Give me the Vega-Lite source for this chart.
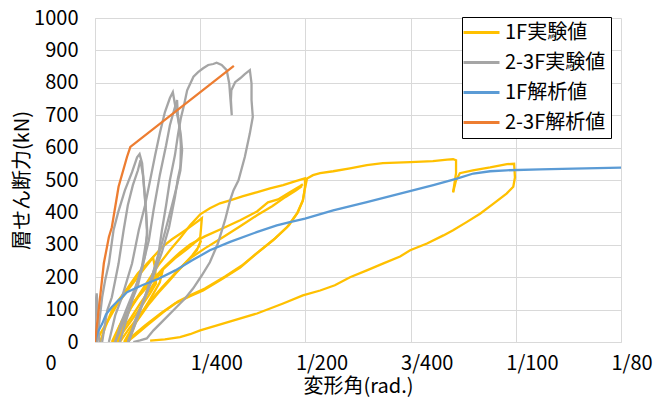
{
"$schema":"https://vega.github.io/schema/vega-lite/v6.json",
"width":526,"height":324,
"autosize":{"type":"none"},
"padding":{"left":95,"top":18,"right":35,"bottom":56},
"background":"white",
"config":{"font":"Noto Sans CJK JP","view":{"stroke":null},
 "axis":{"labelFont":"Noto Sans CJK JP","labelFontSize":20,"labelColor":"#000","titleFont":"Noto Sans CJK JP","titleFontSize":20,"titleFontWeight":"normal","titleColor":"#000","gridColor":"#d9d9d9","gridWidth":1,"domainColor":"#d9d9d9","ticks":false,"tickSize":0,"labelOverlap":false,"labelBound":false,"labelFlush":false}},
"data":{"values":[
{"s":"1F実験値","g":"ya","x":0.00002,"y":0},{"s":"1F実験値","g":"ya","x":0.00014,"y":29},{"s":"1F実験値","g":"ya","x":0.00031,"y":66},{"s":"1F実験値","g":"ya","x":0.0005,"y":110},{"s":"1F実験値","g":"ya","x":0.00074,"y":153},{"s":"1F実験値","g":"ya","x":0.00097,"y":193},{"s":"1F実験値","g":"ya","x":0.00119,"y":230},{"s":"1F実験値","g":"ya","x":0.00138,"y":261},{"s":"1F実験値","g":"ya","x":0.00143,"y":227},{"s":"1F実験値","g":"ya","x":0.00145,"y":181},{"s":"1F実験値","g":"ya","x":0.00131,"y":150},{"s":"1F実験値","g":"ya","x":0.00107,"y":104},{"s":"1F実験値","g":"ya","x":0.00083,"y":60},{"s":"1F実験値","g":"ya","x":0.00064,"y":26},{"s":"1F実験値","g":"ya","x":0.0005,"y":0},
{"s":"1F実験値","g":"yb","x":0.00045,"y":0},{"s":"1F実験値","g":"yb","x":0.00064,"y":36},{"s":"1F実験値","g":"yb","x":0.00086,"y":76},{"s":"1F実験値","g":"yb","x":0.00109,"y":122},{"s":"1F実験値","g":"yb","x":0.00131,"y":162},{"s":"1F実験値","g":"yb","x":0.0015,"y":202},{"s":"1F実験値","g":"yb","x":0.00162,"y":227},{"s":"1F実験値","g":"yb","x":0.00154,"y":184},{"s":"1F実験値","g":"yb","x":0.00135,"y":141},{"s":"1F実験値","g":"yb","x":0.00112,"y":91},{"s":"1F実験値","g":"yb","x":0.0009,"y":48},{"s":"1F実験値","g":"yb","x":0.00074,"y":0},
{"s":"1F実験値","g":"yc","x":0.00012,"y":0},{"s":"1F実験値","g":"yc","x":0.00026,"y":51},{"s":"1F実験値","g":"yc","x":0.0004,"y":97},{"s":"1F実験値","g":"yc","x":0.00055,"y":128},{"s":"1F実験値","g":"yc","x":0.00078,"y":168},{"s":"1F実験値","g":"yc","x":0.00102,"y":212},{"s":"1F実験値","g":"yc","x":0.00131,"y":252},{"s":"1F実験値","g":"yc","x":0.00159,"y":292},{"s":"1F実験値","g":"yc","x":0.00183,"y":317},{"s":"1F実験値","g":"yc","x":0.00207,"y":338},{"s":"1F実験値","g":"yc","x":0.00231,"y":360},{"s":"1F実験値","g":"yc","x":0.00254,"y":382},{"s":"1F実験値","g":"yc","x":0.00252,"y":351},{"s":"1F実験値","g":"yc","x":0.0025,"y":323},{"s":"1F実験値","g":"yc","x":0.00235,"y":304},{"s":"1F実験値","g":"yc","x":0.00221,"y":289},{"s":"1F実験値","g":"yc","x":0.0019,"y":258},{"s":"1F実験値","g":"yc","x":0.00159,"y":221},{"s":"1F実験値","g":"yc","x":0.00131,"y":181},{"s":"1F実験値","g":"yc","x":0.00102,"y":138},{"s":"1F実験値","g":"yc","x":0.00078,"y":91},{"s":"1F実験値","g":"yc","x":0.00059,"y":51},{"s":"1F実験値","g":"yc","x":0.00043,"y":0},
{"s":"1F実験値","g":"ye","x":0.00059,"y":0},{"s":"1F実験値","g":"ye","x":0.00083,"y":45},{"s":"1F実験値","g":"ye","x":0.00112,"y":91},{"s":"1F実験値","g":"ye","x":0.00143,"y":141},{"s":"1F実験値","g":"ye","x":0.00173,"y":184},{"s":"1F実験値","g":"ye","x":0.00202,"y":227},{"s":"1F実験値","g":"ye","x":0.00231,"y":267},{"s":"1F実験値","g":"ye","x":0.00247,"y":295},{"s":"1F実験値","g":"ye","x":0.00252,"y":314},{"s":"1F実験値","g":"ye","x":0.00242,"y":283},{"s":"1F実験値","g":"ye","x":0.00221,"y":252},{"s":"1F実験値","g":"ye","x":0.00192,"y":212},{"s":"1F実験値","g":"ye","x":0.00159,"y":165},{"s":"1F実験値","g":"ye","x":0.00126,"y":113},{"s":"1F実験値","g":"ye","x":0.00097,"y":60},{"s":"1F実験値","g":"ye","x":0.00078,"y":0},
{"s":"1F実験値","g":"yf","x":0.00055,"y":0},{"s":"1F実験値","g":"yf","x":0.00069,"y":60},{"s":"1F実験値","g":"yf","x":0.00088,"y":113},{"s":"1F実験値","g":"yf","x":0.00119,"y":175},{"s":"1F実験値","g":"yf","x":0.0015,"y":236},{"s":"1F実験値","g":"yf","x":0.00178,"y":283},{"s":"1F実験値","g":"yf","x":0.00202,"y":320},{"s":"1F実験値","g":"yf","x":0.00226,"y":360},{"s":"1F実験値","g":"yf","x":0.0025,"y":394},{"s":"1F実験値","g":"yf","x":0.00273,"y":413},{"s":"1F実験値","g":"yf","x":0.00297,"y":428},{"s":"1F実験値","g":"yf","x":0.00321,"y":437},{"s":"1F実験値","g":"yf","x":0.00352,"y":450},{"s":"1F実験値","g":"yf","x":0.00384,"y":462},{"s":"1F実験値","g":"yf","x":0.00416,"y":474},{"s":"1F実験値","g":"yf","x":0.00447,"y":484},{"s":"1F実験値","g":"yf","x":0.00475,"y":496},{"s":"1F実験値","g":"yf","x":0.00499,"y":505},{"s":"1F実験値","g":"yf","x":0.00499,"y":478},{"s":"1F実験値","g":"yf","x":0.00494,"y":437},{"s":"1F実験値","g":"yf","x":0.0048,"y":397},{"s":"1F実験値","g":"yf","x":0.00456,"y":354},{"s":"1F実験値","g":"yf","x":0.00423,"y":314},{"s":"1F実験値","g":"yf","x":0.00385,"y":274},{"s":"1F実験値","g":"yf","x":0.00345,"y":230},{"s":"1F実験値","g":"yf","x":0.00304,"y":196},{"s":"1F実験値","g":"yf","x":0.00257,"y":159},{"s":"1F実験値","g":"yf","x":0.00226,"y":141},{"s":"1F実験値","g":"yf","x":0.0019,"y":119},{"s":"1F実験値","g":"yf","x":0.00159,"y":91},{"s":"1F実験値","g":"yf","x":0.00119,"y":51},{"s":"1F実験値","g":"yf","x":0.00088,"y":17},{"s":"1F実験値","g":"yf","x":0.00071,"y":0},
{"s":"1F実験値","g":"yh","x":0.0004,"y":0},{"s":"1F実験値","g":"yh","x":0.00064,"y":66},{"s":"1F実験値","g":"yh","x":0.00095,"y":128},{"s":"1F実験値","g":"yh","x":0.00131,"y":184},{"s":"1F実験値","g":"yh","x":0.00166,"y":233},{"s":"1F実験値","g":"yh","x":0.00202,"y":277},{"s":"1F実験値","g":"yh","x":0.00226,"y":301},{"s":"1F実験値","g":"yh","x":0.00261,"y":326},{"s":"1F実験値","g":"yh","x":0.00304,"y":351},{"s":"1F実験値","g":"yh","x":0.00345,"y":376},{"s":"1F実験値","g":"yh","x":0.00385,"y":403},{"s":"1F実験値","g":"yh","x":0.00411,"y":431},{"s":"1F実験値","g":"yh","x":0.00435,"y":440},{"s":"1F実験値","g":"yh","x":0.00463,"y":462},{"s":"1F実験値","g":"yh","x":0.00487,"y":481},{"s":"1F実験値","g":"yh","x":0.00494,"y":487},
{"s":"1F実験値","g":"yi","x":0.00069,"y":0},{"s":"1F実験値","g":"yi","x":0.00095,"y":60},{"s":"1F実験値","g":"yi","x":0.00126,"y":119},{"s":"1F実験値","g":"yi","x":0.00159,"y":168},{"s":"1F実験値","g":"yi","x":0.00197,"y":221},{"s":"1F実験値","g":"yi","x":0.00226,"y":258},{"s":"1F実験値","g":"yi","x":0.00261,"y":289},{"s":"1F実験値","g":"yi","x":0.00304,"y":323},{"s":"1F実験値","g":"yi","x":0.00345,"y":357},{"s":"1F実験値","g":"yi","x":0.00385,"y":391},{"s":"1F実験値","g":"yi","x":0.00421,"y":419},{"s":"1F実験値","g":"yi","x":0.00452,"y":447},{"s":"1F実験値","g":"yi","x":0.00478,"y":468},{"s":"1F実験値","g":"yi","x":0.00492,"y":481},
{"s":"1F実験値","g":"yj","x":0.00076,"y":0},{"s":"1F実験値","g":"yj","x":0.00095,"y":20},{"s":"1F実験値","g":"yj","x":0.00126,"y":54},{"s":"1F実験値","g":"yj","x":0.00164,"y":94},{"s":"1F実験値","g":"yj","x":0.00197,"y":125},{"s":"1F実験値","g":"yj","x":0.00231,"y":147},{"s":"1F実験値","g":"yj","x":0.00261,"y":165},{"s":"1F実験値","g":"yj","x":0.00309,"y":202},{"s":"1F実験値","g":"yj","x":0.00349,"y":236},{"s":"1F実験値","g":"yj","x":0.0039,"y":280},{"s":"1F実験値","g":"yj","x":0.00428,"y":320},{"s":"1F実験値","g":"yj","x":0.00461,"y":360},{"s":"1F実験値","g":"yj","x":0.00482,"y":400},{"s":"1F実験値","g":"yj","x":0.00494,"y":437},{"s":"1F実験値","g":"yj","x":0.00499,"y":474},{"s":"1F実験値","g":"yj","x":0.00504,"y":505},{"s":"1F実験値","g":"yj","x":0.00518,"y":515},{"s":"1F実験値","g":"yj","x":0.00535,"y":521},{"s":"1F実験値","g":"yj","x":0.00566,"y":527},{"s":"1F実験値","g":"yj","x":0.00606,"y":536},{"s":"1F実験値","g":"yj","x":0.00646,"y":546},{"s":"1F実験値","g":"yj","x":0.00684,"y":552},{"s":"1F実験値","g":"yj","x":0.00749,"y":555},{"s":"1F実験値","g":"yj","x":0.00803,"y":558},{"s":"1F実験値","g":"yj","x":0.00837,"y":563},{"s":"1F実験値","g":"yj","x":0.00851,"y":564},{"s":"1F実験値","g":"yj","x":0.00858,"y":561},{"s":"1F実験値","g":"yj","x":0.00858,"y":521},{"s":"1F実験値","g":"yj","x":0.00851,"y":462},
{"s":"1F実験値","g":"yl","x":0.00851,"y":462},{"s":"1F実験値","g":"yl","x":0.00858,"y":499},{"s":"1F実験値","g":"yl","x":0.00867,"y":521},{"s":"1F実験値","g":"yl","x":0.00898,"y":530},{"s":"1F実験値","g":"yl","x":0.00939,"y":539},{"s":"1F実験値","g":"yl","x":0.00979,"y":549},{"s":"1F実験値","g":"yl","x":0.00996,"y":550},{"s":"1F実験値","g":"yl","x":0.00998,"y":508},{"s":"1F実験値","g":"yl","x":0.00994,"y":479},{"s":"1F実験値","g":"yl","x":0.00978,"y":458},{"s":"1F実験値","g":"yl","x":0.00947,"y":427},{"s":"1F実験値","g":"yl","x":0.00915,"y":396},{"s":"1F実験値","g":"yl","x":0.00883,"y":370},{"s":"1F実験値","g":"yl","x":0.00851,"y":345},{"s":"1F実験値","g":"yl","x":0.00828,"y":329},{"s":"1F実験値","g":"yl","x":0.00789,"y":304},{"s":"1F実験値","g":"yl","x":0.00749,"y":283},{"s":"1F実験値","g":"yl","x":0.00725,"y":264},{"s":"1F実験値","g":"yl","x":0.00684,"y":242},{"s":"1F実験値","g":"yl","x":0.00646,"y":221},{"s":"1F実験値","g":"yl","x":0.00606,"y":200},{"s":"1F実験値","g":"yl","x":0.0057,"y":175},{"s":"1F実験値","g":"yl","x":0.00535,"y":159},{"s":"1F実験値","g":"yl","x":0.00494,"y":144},{"s":"1F実験値","g":"yl","x":0.00447,"y":119},{"s":"1F実験値","g":"yl","x":0.00385,"y":88},{"s":"1F実験値","g":"yl","x":0.00304,"y":57},{"s":"1F実験値","g":"yl","x":0.0025,"y":36},{"s":"1F実験値","g":"yl","x":0.00226,"y":24},{"s":"1F実験値","g":"yl","x":0.00202,"y":15},{"s":"1F実験値","g":"yl","x":0.00166,"y":8},{"s":"1F実験値","g":"yl","x":0.00131,"y":4},
{"s":"2-3F実験値","g":"g1","x":0,"y":0},{"s":"2-3F実験値","g":"g1","x":0.00001,"y":66},{"s":"2-3F実験値","g":"g1","x":0.00002,"y":128},{"s":"2-3F実験値","g":"g1","x":0.00004,"y":150},{"s":"2-3F実験値","g":"g1","x":0.00006,"y":113},{"s":"2-3F実験値","g":"g1","x":0.00008,"y":36},{"s":"2-3F実験値","g":"g1","x":0.00011,"y":0},
{"s":"2-3F実験値","g":"g2","x":0.00005,"y":0},{"s":"2-3F実験値","g":"g2","x":0.00012,"y":82},{"s":"2-3F実験値","g":"g2","x":0.00017,"y":138},{"s":"2-3F実験値","g":"g2","x":0.00024,"y":190},{"s":"2-3F実験値","g":"g2","x":0.00033,"y":242},{"s":"2-3F実験値","g":"g2","x":0.00044,"y":345},{"s":"2-3F実験値","g":"g2","x":0.00055,"y":400},{"s":"2-3F実験値","g":"g2","x":0.00071,"y":468},{"s":"2-3F実験値","g":"g2","x":0.00088,"y":524},{"s":"2-3F実験値","g":"g2","x":0.001,"y":570},{"s":"2-3F実験値","g":"g2","x":0.00106,"y":580},{"s":"2-3F実験値","g":"g2","x":0.00112,"y":552},{"s":"2-3F実験値","g":"g2","x":0.0012,"y":428},{"s":"2-3F実験値","g":"g2","x":0.00124,"y":345},{"s":"2-3F実験値","g":"g2","x":0.00119,"y":267},{"s":"2-3F実験値","g":"g2","x":0.00102,"y":175},{"s":"2-3F実験値","g":"g2","x":0.00074,"y":82},{"s":"2-3F実験値","g":"g2","x":0.00048,"y":0},
{"s":"2-3F実験値","g":"g3","x":0.00017,"y":0},{"s":"2-3F実験値","g":"g3","x":0.00029,"y":97},{"s":"2-3F実験値","g":"g3","x":0.0004,"y":138},{"s":"2-3F実験値","g":"g3","x":0.00048,"y":190},{"s":"2-3F実験値","g":"g3","x":0.00056,"y":242},{"s":"2-3F実験値","g":"g3","x":0.00068,"y":345},{"s":"2-3F実験値","g":"g3","x":0.00078,"y":422},{"s":"2-3F実験値","g":"g3","x":0.0009,"y":484},{"s":"2-3F実験値","g":"g3","x":0.00102,"y":530},{"s":"2-3F実験値","g":"g3","x":0.00108,"y":561},{"s":"2-3F実験値","g":"g3","x":0.00114,"y":515},{"s":"2-3F実験値","g":"g3","x":0.00121,"y":406},{"s":"2-3F実験値","g":"g3","x":0.00124,"y":329},{"s":"2-3F実験値","g":"g3","x":0.00112,"y":236},{"s":"2-3F実験値","g":"g3","x":0.00088,"y":128},{"s":"2-3F実験値","g":"g3","x":0.00059,"y":0},
{"s":"2-3F実験値","g":"g4","x":0.00033,"y":0},{"s":"2-3F実験値","g":"g4","x":0.00048,"y":82},{"s":"2-3F実験値","g":"g4","x":0.00064,"y":138},{"s":"2-3F実験値","g":"g4","x":0.00076,"y":190},{"s":"2-3F実験値","g":"g4","x":0.00088,"y":242},{"s":"2-3F実験値","g":"g4","x":0.00104,"y":345},{"s":"2-3F実験値","g":"g4","x":0.00119,"y":422},{"s":"2-3F実験値","g":"g4","x":0.00131,"y":499},{"s":"2-3F実験値","g":"g4","x":0.00143,"y":577},{"s":"2-3F実験値","g":"g4","x":0.00154,"y":644},{"s":"2-3F実験値","g":"g4","x":0.00166,"y":709},{"s":"2-3F実験値","g":"g4","x":0.00178,"y":753},{"s":"2-3F実験値","g":"g4","x":0.00185,"y":771},{"s":"2-3F実験値","g":"g4","x":0.0019,"y":734},{"s":"2-3F実験値","g":"g4","x":0.00197,"y":691},{"s":"2-3F実験値","g":"g4","x":0.00204,"y":638},{"s":"2-3F実験値","g":"g4","x":0.00207,"y":592},{"s":"2-3F実験値","g":"g4","x":0.00204,"y":546},{"s":"2-3F実験値","g":"g4","x":0.00197,"y":505},{"s":"2-3F実験値","g":"g4","x":0.0019,"y":447},{"s":"2-3F実験値","g":"g4","x":0.00176,"y":354},{"s":"2-3F実験値","g":"g4","x":0.00159,"y":277},{"s":"2-3F実験値","g":"g4","x":0.00135,"y":190},{"s":"2-3F実験値","g":"g4","x":0.00112,"y":113},{"s":"2-3F実験値","g":"g4","x":0.0008,"y":0},
{"s":"2-3F実験値","g":"g5","x":0.00048,"y":0},{"s":"2-3F実験値","g":"g5","x":0.00064,"y":66},{"s":"2-3F実験値","g":"g5","x":0.0008,"y":118},{"s":"2-3F実験値","g":"g5","x":0.00093,"y":159},{"s":"2-3F実験値","g":"g5","x":0.00108,"y":211},{"s":"2-3F実験値","g":"g5","x":0.00119,"y":267},{"s":"2-3F実験値","g":"g5","x":0.00128,"y":314},{"s":"2-3F実験値","g":"g5","x":0.00139,"y":406},{"s":"2-3F実験値","g":"g5","x":0.00154,"y":515},{"s":"2-3F実験値","g":"g5","x":0.00169,"y":607},{"s":"2-3F実験値","g":"g5","x":0.00178,"y":669},{"s":"2-3F実験値","g":"g5","x":0.00188,"y":716},{"s":"2-3F実験値","g":"g5","x":0.00195,"y":747},{"s":"2-3F実験値","g":"g5","x":0.00197,"y":700},{"s":"2-3F実験値","g":"g5","x":0.00202,"y":654},{"s":"2-3F実験値","g":"g5","x":0.00204,"y":607},{"s":"2-3F実験値","g":"g5","x":0.00203,"y":530},{"s":"2-3F実験値","g":"g5","x":0.00195,"y":484},{"s":"2-3F実験値","g":"g5","x":0.00183,"y":422},{"s":"2-3F実験値","g":"g5","x":0.00166,"y":338},{"s":"2-3F実験値","g":"g5","x":0.00151,"y":267},{"s":"2-3F実験値","g":"g5","x":0.00135,"y":200},{"s":"2-3F実験値","g":"g5","x":0.00119,"y":141},{"s":"2-3F実験値","g":"g5","x":0.00097,"y":66},{"s":"2-3F実験値","g":"g5","x":0.00078,"y":0},
{"s":"2-3F実験値","g":"g6","x":0.0008,"y":0},{"s":"2-3F実験値","g":"g6","x":0.00095,"y":66},{"s":"2-3F実験値","g":"g6","x":0.00112,"y":118},{"s":"2-3F実験値","g":"g6","x":0.00124,"y":159},{"s":"2-3F実験値","g":"g6","x":0.00135,"y":200},{"s":"2-3F実験値","g":"g6","x":0.00151,"y":273},{"s":"2-3F実験値","g":"g6","x":0.00159,"y":345},{"s":"2-3F実験値","g":"g6","x":0.00169,"y":422},{"s":"2-3F実験値","g":"g6","x":0.00178,"y":499},{"s":"2-3F実験値","g":"g6","x":0.0019,"y":577},{"s":"2-3F実験値","g":"g6","x":0.00197,"y":638},{"s":"2-3F実験値","g":"g6","x":0.00204,"y":691},{"s":"2-3F実験値","g":"g6","x":0.00212,"y":734},{"s":"2-3F実験値","g":"g6","x":0.00219,"y":777},{"s":"2-3F実験値","g":"g6","x":0.00234,"y":819},{"s":"2-3F実験値","g":"g6","x":0.00245,"y":833},{"s":"2-3F実験値","g":"g6","x":0.00257,"y":845},{"s":"2-3F実験値","g":"g6","x":0.00269,"y":855},{"s":"2-3F実験値","g":"g6","x":0.00281,"y":858},{"s":"2-3F実験値","g":"g6","x":0.00289,"y":862},{"s":"2-3F実験値","g":"g6","x":0.00301,"y":855},{"s":"2-3F実験値","g":"g6","x":0.00313,"y":839},{"s":"2-3F実験値","g":"g6","x":0.00319,"y":798},{"s":"2-3F実験値","g":"g6","x":0.00322,"y":747},{"s":"2-3F実験値","g":"g6","x":0.00325,"y":700},{"s":"2-3F実験値","g":"g6","x":0.00323,"y":747},{"s":"2-3F実験値","g":"g6","x":0.00324,"y":777},{"s":"2-3F実験値","g":"g6","x":0.00333,"y":802},{"s":"2-3F実験値","g":"g6","x":0.00345,"y":814},{"s":"2-3F実験値","g":"g6","x":0.00356,"y":827},{"s":"2-3F実験値","g":"g6","x":0.00368,"y":839},{"s":"2-3F実験値","g":"g6","x":0.00372,"y":798},{"s":"2-3F実験値","g":"g6","x":0.00372,"y":747},{"s":"2-3F実験値","g":"g6","x":0.00375,"y":695},{"s":"2-3F実験値","g":"g6","x":0.00368,"y":644},{"s":"2-3F実験値","g":"g6","x":0.00356,"y":571},{"s":"2-3F実験値","g":"g6","x":0.00341,"y":499},{"s":"2-3F実験値","g":"g6","x":0.00329,"y":468},{"s":"2-3F実験値","g":"g6","x":0.00321,"y":437},{"s":"2-3F実験値","g":"g6","x":0.00309,"y":376},{"s":"2-3F実験値","g":"g6","x":0.00292,"y":304},{"s":"2-3F実験値","g":"g6","x":0.00273,"y":246},{"s":"2-3F実験値","g":"g6","x":0.00254,"y":206},{"s":"2-3F実験値","g":"g6","x":0.00233,"y":165},{"s":"2-3F実験値","g":"g6","x":0.00214,"y":134},{"s":"2-3F実験値","g":"g6","x":0.00194,"y":108},{"s":"2-3F実験値","g":"g6","x":0.00162,"y":66},{"s":"2-3F実験値","g":"g6","x":0.00139,"y":36},{"s":"2-3F実験値","g":"g6","x":0.00123,"y":11},{"s":"2-3F実験値","g":"g6","x":0.00107,"y":5},{"s":"2-3F実験値","g":"g6","x":0.00091,"y":0},
{"s":"1F解析値","g":"b","x":0,"y":0},{"s":"1F解析値","g":"b","x":0.00007,"y":32},{"s":"1F解析値","g":"b","x":0.00017,"y":56},{"s":"1F解析値","g":"b","x":0.00026,"y":85},{"s":"1F解析値","g":"b","x":0.0004,"y":108},{"s":"1F解析値","g":"b","x":0.00055,"y":128},{"s":"1F解析値","g":"b","x":0.00064,"y":138},{"s":"1F解析値","g":"b","x":0.00076,"y":154},{"s":"1F解析値","g":"b","x":0.00095,"y":165},{"s":"1F解析値","g":"b","x":0.00112,"y":175},{"s":"1F解析値","g":"b","x":0.00151,"y":195},{"s":"1F解析値","g":"b","x":0.00191,"y":221},{"s":"1F解析値","g":"b","x":0.00231,"y":252},{"s":"1F解析値","g":"b","x":0.00273,"y":283},{"s":"1F解析値","g":"b","x":0.00321,"y":309},{"s":"1F解析値","g":"b","x":0.00384,"y":339},{"s":"1F解析値","g":"b","x":0.00432,"y":360},{"s":"1F解析値","g":"b","x":0.00463,"y":370},{"s":"1F解析値","g":"b","x":0.00499,"y":381},{"s":"1F解析値","g":"b","x":0.00566,"y":406},{"s":"1F解析値","g":"b","x":0.00646,"y":432},{"s":"1F解析値","g":"b","x":0.00725,"y":458},{"s":"1F解析値","g":"b","x":0.00804,"y":484},{"s":"1F解析値","g":"b","x":0.0086,"y":504},{"s":"1F解析値","g":"b","x":0.00899,"y":520},{"s":"1F解析値","g":"b","x":0.00939,"y":527},{"s":"1F解析値","g":"b","x":0.00978,"y":530},{"s":"1F解析値","g":"b","x":0.01058,"y":533},{"s":"1F解析値","g":"b","x":0.01137,"y":535},{"s":"1F解析値","g":"b","x":0.0125,"y":538},
{"s":"2-3F解析値","g":"o","x":0,"y":0},{"s":"2-3F解析値","g":"o","x":0.0001,"y":113},{"s":"2-3F解析値","g":"o","x":0.00021,"y":243},{"s":"2-3F解析値","g":"o","x":0.00033,"y":324},{"s":"2-3F解析値","g":"o","x":0.0004,"y":354},{"s":"2-3F解析値","g":"o","x":0.00056,"y":479},{"s":"2-3F解析値","g":"o","x":0.00076,"y":571},{"s":"2-3F解析値","g":"o","x":0.00084,"y":602},{"s":"2-3F解析値","g":"o","x":0.0033,"y":852}
]},
"encoding":{
 "x":{"field":"x","type":"quantitative","scale":{"domain":[0,0.0125],"nice":false,"zero":false},
  "axis":{"title":"変形角(rad.)","values":[0,0.0025,0.005,0.0075,0.01,0.0125],"labelExpr":"datum.value < 0.001 ? '0' : datum.value < 0.003 ? '1/400' : datum.value < 0.006 ? '1/200' : datum.value < 0.008 ? '3/400' : datum.value < 0.011 ? '1/100' : '1/80'","labelAlign":"left","labelOffset":{"condition":{"test":"datum.value < 0.001","value":-50},"value":-10},"labelPadding":11,"titlePadding":3}},
 "y":{"field":"y","type":"quantitative","scale":{"domain":[0,1000],"nice":false},
  "axis":{"title":"層せん断力(kN)","format":"d","values":[0,100,200,300,400,500,600,700,800,900,1000],"labelPadding":17,"titlePadding":1}},
 "color":{"field":"s","type":"nominal","scale":{"domain":["1F実験値","2-3F実験値","1F解析値","2-3F解析値"],"range":["#FFC000","#A5A5A5","#5B9BD5","#ED7D31"]},
  "legend":{"title":null,"orient":"none","legendX":367,"legendY":-1,"symbolType":"M-2,0H2","symbolSize":324,"symbolStrokeWidth":3,"symbolOffset":4,"labelOffset":13,"padding":5,"rowPadding":9,"strokeColor":"#000","fillColor":"#fff","labelFont":"Noto Sans CJK JP","labelFontSize":20,"labelColor":"#000","labelLimit":300}},
 "detail":{"field":"g"},
 "order":{"value":null}
},
"layer":[
 {"transform":[{"filter":"datum.s === '1F実験値'"}],"mark":{"type":"line","strokeWidth":2.3,"clip":true},"encoding":{}},
 {"transform":[{"filter":"datum.s === '2-3F実験値'"}],"mark":{"type":"line","strokeWidth":2.3,"clip":true},"encoding":{}},
 {"transform":[{"filter":"datum.s === '1F解析値'"}],"mark":{"type":"line","strokeWidth":2.3,"clip":true},"encoding":{}},
 {"transform":[{"filter":"datum.s === '2-3F解析値'"}],"mark":{"type":"line","strokeWidth":2.3,"clip":true},"encoding":{}}
]
}
